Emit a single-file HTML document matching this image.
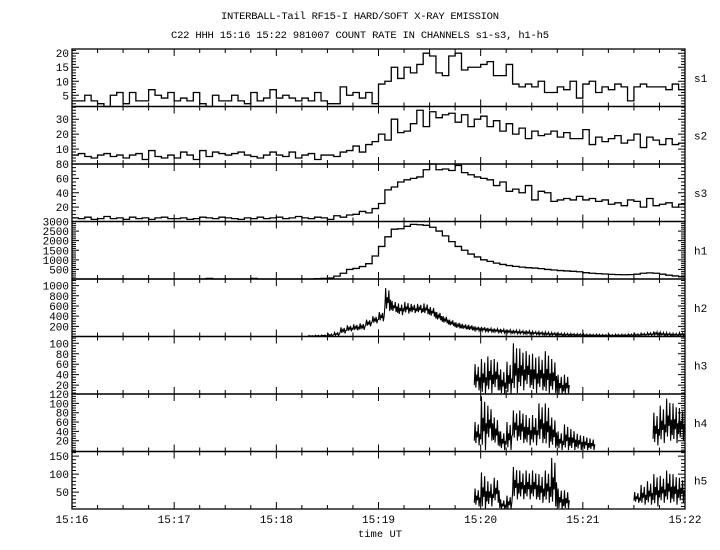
<!DOCTYPE html>
<html><head><meta charset="utf-8"><style>
html,body{margin:0;padding:0;background:#fff;}
svg{display:block;font-family:"Liberation Mono","DejaVu Sans Mono",monospace;}
</style></head><body>
<svg id="chart" width="720" height="550" viewBox="0 0 720 550">
<rect x="0" y="0" width="720" height="550" fill="#fff"/>
<text x="360" y="19" text-anchor="middle" font-size="10.5" textLength="278">INTERBALL-Tail RF15-I HARD/SOFT X-RAY EMISSION</text>
<text x="360" y="38" text-anchor="middle" font-size="10.5" textLength="378">C22 HHH 15:16 15:22 981007  COUNT RATE IN CHANNELS s1-s3, h1-h5</text>
<text x="380" y="537" text-anchor="middle" font-size="10.5">time UT</text>
</svg>
<script>
// ---- data (96 bins of 3.75 s from 15:16 to 15:22) ----
const timeTicks = ["15:16","15:17","15:18","15:19","15:20","15:21","15:22"];
const channels = ["s1","s2","s3","h1","h2","h3","h4","h5"];
const s1Values = [3,3,5,3,2,1,5,6,2,6,3,3,7,5,4,6, 3,4,3,6,2,1,5,3,3,5,3,2,6,3,4,7, 4,5,4,3,4,3,6,3,2,2,8,5,6,4,6,2, 9,10,15,11,15,13,16,20,19,13,12,19,20,14,15,15, 16,17,12,12,16,9,8,9,8,10,6,6,8,7,10,4, 9,10,6,8,7,9,8,3,8,9,8,8,8,7,9,7];
const s2Values = [6,7,5,4,6,7,5,6,4,6,7,3,9,5,4,6, 4,8,6,3,9,5,8,7,6,7,8,6,5,4,6,8, 6,5,8,4,6,7,3,6,6,5,8,9,12,8,13,15, 20,16,30,21,22,27,36,25,35,31,33,34,28,33,25,30, 32,25,29,22,27,20,24,17,22,19,20,22,18,21,17,17, 23,13,18,15,17,19,14,16,20,11,18,16,13,17,13,14];
const s3Values = [5,4,6,3,4,7,4,5,3,6,4,5,3,5,6,4, 4,5,3,4,6,5,4,6,5,4,3,5,4,6,4,5, 6,4,5,7,5,4,6,5,3,8,6,9,10,14,12,18, 25,44,48,55,58,60,62,72,80,72,73,71,78,68,65,62, 60,58,50,55,42,45,40,50,30,42,40,28,30,32,30,35, 30,32,28,30,24,26,22,30,28,20,32,22,24,26,20,24];
const h1Values = [0,0,0,0,0,0,0,0,0,0,0,0,0,0,0,0, 0,0,0,0,0,30,0,0,0,0,0,0,30,0,0,0, 0,0,0,0,0,0,20,30,50,150,300,500,550,650,800,1200, 1700,2200,2600,2620,2750,2850,2830,2800,2700,2500,2250,1950,1700,1500,1300,1150, 1000,920,830,760,700,660,620,590,570,540,500,470,440,420,400,380, 330,300,280,260,240,230,220,230,250,300,320,300,250,200,160,120];
const N = null;
const h2Lo = [N,N,N,N,N,N,N,N,N,N,N,N,N,N,N,N, N,N,N,N,N,N,N,N,N,N,N,N,N,N,N,N, N,N,N,N,N,0,0,5,10,20,60,100,120,130,200,260, 300,500,480,420,450,460,460,440,390,320,260,210,160,140,120,110, 100,90,80,70,60,55,50,40,40,30,20,20,15,10,10,10, 5,5,5,5,5,5,5,10,10,15,20,20,15,10,10,10];
const h2Hi = [N,N,N,N,N,N,N,N,N,N,N,N,N,N,N,N, N,N,N,N,N,N,N,N,N,N,N,N,N,N,N,N, N,N,N,N,N,20,25,30,50,80,180,220,240,260,330,400, 480,950,700,650,680,640,640,650,580,480,400,330,280,250,230,200, 190,170,160,150,140,130,120,120,100,95,90,80,70,65,60,55, 50,45,45,40,40,45,45,50,55,65,75,100,85,75,65,75];
const h3Lo = [N,N,N,N,N,N,N,N,N,N,N,N,N,N,N,N, N,N,N,N,N,N,N,N,N,N,N,N,N,N,N,N, N,N,N,N,N,N,N,N,N,N,N,N,N,N,N,N, N,N,N,N,N,N,N,N,N,N,N,N,N,N,N,10, 0,5,10,0,0,5,10,15,5,10,0,5,0,0,N,N, N,N,N,N,N,N,N,N,N,N,N,N,N,N,N,N];
const h3Hi = [N,N,N,N,N,N,N,N,N,N,N,N,N,N,N,N, N,N,N,N,N,N,N,N,N,N,N,N,N,N,N,N, N,N,N,N,N,N,N,N,N,N,N,N,N,N,N,N, N,N,N,N,N,N,N,N,N,N,N,N,N,N,N,60, 70,75,70,50,65,100,90,85,80,75,85,70,40,40,N,N, N,N,N,N,N,N,N,N,N,N,N,N,N,N,N,N];
const h4Lo = [N,N,N,N,N,N,N,N,N,N,N,N,N,N,N,N, N,N,N,N,N,N,N,N,N,N,N,N,N,N,N,N, N,N,N,N,N,N,N,N,N,N,N,N,N,N,N,N, N,N,N,N,N,N,N,N,N,N,N,N,N,N,N,10, 0,20,10,0,0,20,15,10,10,15,5,5,0,0,0,0, 0,0,N,N,N,N,N,N,N,N,N,10,15,20,15,20];
const h4Hi = [N,N,N,N,N,N,N,N,N,N,N,N,N,N,N,N, N,N,N,N,N,N,N,N,N,N,N,N,N,N,N,N, N,N,N,N,N,N,N,N,N,N,N,N,N,N,N,N, N,N,N,N,N,N,N,N,N,N,N,N,N,N,N,60, 115,95,70,40,60,85,85,75,75,100,100,70,40,55,45,35, 30,25,N,N,N,N,N,N,N,N,N,80,95,110,100,90];
const h5Lo = [N,N,N,N,N,N,N,N,N,N,N,N,N,N,N,N, N,N,N,N,N,N,N,N,N,N,N,N,N,N,N,N, N,N,N,N,N,N,N,N,N,N,N,N,N,N,N,N, N,N,N,N,N,N,N,N,N,N,N,N,N,N,N,10, 0,10,20,0,0,30,30,30,30,20,20,10,0,0,N,N, N,N,N,N,N,N,N,N,20,15,15,10,20,20,15,20];
const h5Hi = [N,N,N,N,N,N,N,N,N,N,N,N,N,N,N,N, N,N,N,N,N,N,N,N,N,N,N,N,N,N,N,N, N,N,N,N,N,N,N,N,N,N,N,N,N,N,N,N, N,N,N,N,N,N,N,N,N,N,N,N,N,N,N,60, 105,80,90,30,40,120,110,110,110,100,110,145,60,55,N,N, N,N,N,N,N,N,N,N,50,70,80,100,95,110,100,90];
const s1Ticks = [5,10,15,20];
const s2Ticks = [10,20,30];
const s3Ticks = [20,40,60,80];
const h1Ticks = [500,1000,1500,2000,2500,3000];
const h2Ticks = [200,400,600,800,1000];
const h3Ticks = [20,40,60,80,100];
const h4Ticks = [20,40,60,80,100,120];
const h5Ticks = [50,100,150];

// ---- layout ----
const svg = document.getElementById('chart');
const NS = 'http://www.w3.org/2000/svg';
const X0 = 72, X1 = 685, TOP = 49, PH = 57.5, NB = 96;
const xScale = m => X0 + (X1 - X0) * m / 6;
const binX = i => X0 + (X1 - X0) * i / NB;
const panels = [
  {name:'s1', lo:1, hi:21.5, minor:1, ticks:s1Ticks, step:s1Values},
  {name:'s2', lo:0, hi:38.5, minor:2, ticks:s2Ticks, step:s2Values},
  {name:'s3', lo:0, hi:80, minor:5, ticks:s3Ticks, step:s3Values},
  {name:'h1', lo:0, hi:3000, minor:100, ticks:h1Ticks, step:h1Values},
  {name:'h2', lo:0, hi:1130, minor:50, ticks:h2Ticks, band:[h2Lo,h2Hi]},
  {name:'h3', lo:3, hi:113, minor:5, ticks:h3Ticks, band:[h3Lo,h3Hi]},
  {name:'h4', lo:-3, hi:120, minor:5, ticks:h4Ticks, band:[h4Lo,h4Hi]},
  {name:'h5', lo:3, hi:163, minor:10, ticks:h5Ticks, band:[h5Lo,h5Hi]}
];
function mk(tag, attrs){const e=document.createElementNS(NS,tag);for(const k in attrs)e.setAttribute(k,attrs[k]);svg.appendChild(e);return e;}
const zig = [0.2,1,0.1,0.6,0.35,0.9,0,0.5];

panels.forEach((p, k) => {
  const top = TOP + k*PH, bot = top + PH;
  const yS = v => bot - (v - p.lo) / (p.hi - p.lo) * PH;
  let d = '';
  for (let q = 0; q <= 24; q++) {
    const x = xScale(q/4), L = q % 4 === 0 ? 7 : 4;
    d += `M${x},${bot}v${-L}M${x},${top}v${L}`;
  }
  for (let v = Math.ceil(p.lo/p.minor)*p.minor; v <= p.hi; v += p.minor) {
    const y = yS(v), L = p.ticks.includes(v) ? 7 : 4;
    d += `M${X0},${y}h${L}M${X1},${y}h${-L}`;
  }
  const tk = mk('path', {d:d, stroke:'#000', 'stroke-width':1, fill:'none'});
  
  
  const fr = mk('rect', {x:X0, y:top, width:X1-X0, height:PH, fill:'none', stroke:'#000', 'stroke-width':1.3});
  
  
  p.ticks.forEach(v => {
    const t = mk('text', {x:X0-3, y:yS(v)+4, 'text-anchor':'end', 'font-size':11});
    t.textContent = v;
    
    
  });
  const lb = mk('text', {x:694, y:(top+bot)/2+4, 'font-size':11});
  lb.textContent = channels[k];
  
  
  let sd = '';
  if (p.step) {
    p.step.forEach((v, i) => {
      const y = Math.max(top, Math.min(bot, yS(v)));
      sd += (i === 0 ? `M${binX(0)},${y}` : `V${y}`) + `H${binX(i+1)}`;
    });
  } else {
    const [lo, hi] = p.band;
    let open = false;
    lo.forEach((v, i) => {
      if (v === null) { open = false; return; }
      const n = zig.length;
      for (let j = 0; j < n; j++) {
        const x = binX(i) + (binX(i+1)-binX(i)) * j / n;
        const val = v + (hi[i] - v) * zig[j];
        const y = Math.max(top, Math.min(bot, yS(val)));
        sd += (open ? 'L' : 'M') + x.toFixed(2) + ',' + y.toFixed(2);
        open = true;
      }
    });
  }
  const sr = mk('path', {d:sd, stroke:'#000', 'stroke-width':p.step?1.3:1.1, fill:'none', 'stroke-linejoin':'miter'});
  
  
});
timeTicks.forEach((s, i) => {
  const t = mk('text', {x:xScale(i), y:523, 'text-anchor':'middle', 'font-size':11});
  t.textContent = s;
  
  
});
</script>
</body></html>
